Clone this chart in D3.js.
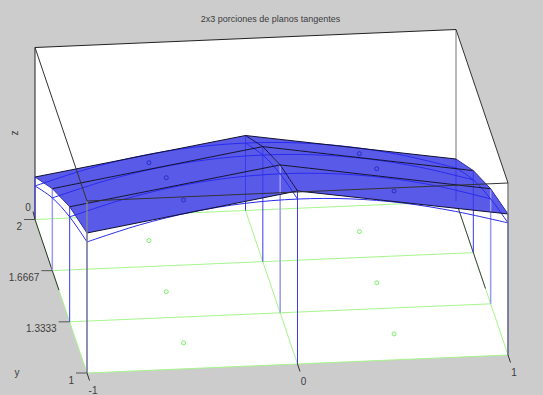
<!DOCTYPE html>
<html>
<head>
<meta charset="utf-8">
<script src="https://cdnjs.cloudflare.com/ajax/libs/d3/7.8.5/d3.min.js"></script>
<style>
	html, body { margin: 0; padding: 0; background: #cccccc; }
	svg { display: block; }
	text { font-family: "Liberation Sans", sans-serif; font-size: 10px; fill: #3c3c3c; }
</style>
</head>
<body>
<svg id="vis" width="543" height="395"></svg>
<script>
	var titleText = "2x3 porciones de planos tangentes";
	var xNodes = [-1, 0, 1];
	var yNodes = [2, 5 / 3, 4 / 3, 1];
	var yLabels = ["2", "1.6667", "1.3333", "1"];
	var xLabels = ["-1", "0", "1"];

	// tangent plane corners, one row per y node, one value per x node
	var planeRow2 = [0.247, 0.436, 0.247];
	var planeRow53 = [0.477, 0.669, 0.477];
	var planeRow43 = [0.669, 0.860, 0.669];
	var planeRow1 = [0.814, 1.006, 0.820];
	var planeRows = [planeRow2, planeRow53, planeRow43, planeRow1];

	// the function itself, read along each y node
	var wireX = [-1, -0.75, -0.5, -0.25, 0, 0.25, 0.5, 0.75, 1];
	var wireRow2 = [0.195, 0.281, 0.343, 0.380, 0.392, 0.380, 0.343, 0.281, 0.195];
	var wireRow53 = [0.423, 0.509, 0.571, 0.608, 0.620, 0.608, 0.571, 0.509, 0.423];
	var wireRow43 = [0.610, 0.697, 0.759, 0.796, 0.808, 0.796, 0.759, 0.697, 0.610];
	var wireRow1 = [0.762, 0.848, 0.910, 0.947, 0.959, 0.947, 0.910, 0.848, 0.768];
	var wireRows = [wireRow2, wireRow53, wireRow43, wireRow1];

	// tangency points
	var pointX = [-0.5, -0.5, -0.5, 0.5, 0.5, 0.5];
	var pointY = [11 / 6, 1.5, 7 / 6, 11 / 6, 1.5, 7 / 6];
	var pointZ = [0.453, 0.663, 0.831, 0.453, 0.663, 0.831];

	var svg = d3.select("#vis");

	var xToPx = d3.scaleLinear().domain([-1, 1]).range([35, 456]);
	var xToPy = d3.scaleLinear().domain([-1, 1]).range([219.5, 201.5]);
	var yToPx = d3.scaleLinear().domain([2, 1]).range([0, 52]);
	var yToPy = d3.scaleLinear().domain([2, 1]).range([0, 153.5]);
	var zToPy = d3.scaleLinear().domain([0, 1]).range([0, -172]);

	function project(x, y, z) {
		return [xToPx(x) + yToPx(y), xToPy(x) + yToPy(y) + zToPy(z)];
	}

	var line = d3.line();
	var curve = d3.line().curve(d3.curveCatmullRom);

	function seg(a, b, color, width) {
		svg.append("path")
			.attr("d", line([a, b]))
			.attr("fill", "none")
			.attr("stroke", color)
			.attr("stroke-width", width || 1);
	}

	// white inside of the box
	svg.append("path")
		.attr("d", line([
			project(-1, 2, 1), project(1, 2, 1), project(1, 1, 1),
			project(1, 1, 0), project(-1, 1, 0), project(-1, 2, 0)
		]) + "Z")
		.attr("fill", "#ffffff");

	// back box edges
	seg(project(-1, 2, 0), project(-1, 2, 1), "#222");
	seg(project(1, 2, 0), project(1, 2, 1), "#777");
	seg(project(-1, 2, 1), project(1, 2, 1), "#222");

	// green floor grid
	var green = "#a6f58c";
	yNodes.forEach(function(y) {
		seg(project(-1, y, 0), project(1, y, 0), green);
	});
	xNodes.forEach(function(x) {
		seg(project(x, 2, 0), project(x, 1, 0), green);
	});
	// dark parts of the side edges of the floor
	seg(project(-1, 2, 0), project(-1, 1.54, 0), "#333");
	seg(project(1, 2, 0), project(1, 1.433, 0), "#444");

	pointX.forEach(function(x, i) {
		var p = project(x, pointY[i], 0);
		svg.append("circle").attr("cx", p[0]).attr("cy", p[1]).attr("r", 2)
			.attr("fill", "none").attr("stroke", "#7df06a");
	});

	// patches
	for (var r = 0; r < yNodes.length - 1; r++) {
		for (var c = 0; c < xNodes.length - 1; c++) {
			svg.append("path")
				.attr("d", line([
					project(xNodes[c], yNodes[r], planeRows[r][c]),
					project(xNodes[c + 1], yNodes[r], planeRows[r][c + 1]),
					project(xNodes[c + 1], yNodes[r + 1], planeRows[r + 1][c + 1]),
					project(xNodes[c], yNodes[r + 1], planeRows[r + 1][c])
				]) + "Z")
				.attr("fill", "#5a5ae8")
				.attr("stroke", "none");
		}
	}

	// verticals from floor to the planes, some come out wider and paler
	yNodes.forEach(function(y, r) {
		xNodes.forEach(function(x, c) {
			var pale = (r == 1 && c == 0) || (r == 2 && c > 0);
			seg(project(x, y, 0), project(x, y, planeRows[r][c]), pale ? "#9a9af5" : "#3a3aee", pale ? 1.5 : 1);
		});
	});

	// wire of the function
	wireRows.forEach(function(row, r) {
		svg.append("path")
			.attr("d", curve(row.map(function(z, i) { return project(wireX[i], yNodes[r], z); })))
			.attr("fill", "none").attr("stroke", "#2a2aee");
	});
	[0, 4, 8].forEach(function(i) {
		svg.append("path")
			.attr("d", curve(wireRows.map(function(row, r) { return project(wireX[i], yNodes[r], row[i]); })))
			.attr("fill", "none").attr("stroke", "#2a2aee");
	});

	// outlines of the planes
	planeRows.forEach(function(row, r) {
		var pts = row.map(function(z, c) { return project(xNodes[c], yNodes[r], z); });
		svg.append("path").attr("d", line(pts)).attr("fill", "none").attr("stroke", "#111133");
	});
	xNodes.forEach(function(x, c) {
		var pts = planeRows.map(function(row, r) { return project(x, yNodes[r], row[c]); });
		svg.append("path").attr("d", line(pts)).attr("fill", "none").attr("stroke", c == 1 ? "#111155" : "#3030a0");
	});

	pointX.forEach(function(x, i) {
		var p = project(x, pointY[i], pointZ[i]);
		svg.append("circle").attr("cx", p[0]).attr("cy", p[1]).attr("r", 2)
			.attr("fill", "none").attr("stroke", "#2a2ac8");
	});

	// front box edges
	seg(project(-1, 1, 0), project(-1, 1, 1), "#8a8a8a", 1.3);
	seg(project(1, 1, 0), project(1, 1, 1), "#777", 1.3);
	seg(project(-1, 1, 1), project(1, 1, 1), "#333");
	seg(project(-1, 2, 1), project(-1, 1, 1), "#333");
	seg(project(1, 2, 1), project(1, 1, 1), "#333");

	// ticks and labels
	function label(s, x, y, anchor) {
		return svg.append("text").attr("x", x).attr("y", y)
			.attr("text-anchor", anchor || "middle").text(s);
	}

	xNodes.forEach(function(x, i) {
		var p = project(x, 1, 0);
		seg(p, [p[0] + 2.5, p[1] + 7.5], "#333");
		label(xLabels[i], p[0] + 6, p[1] + 21);
	});
	yNodes.forEach(function(y, i) {
		var p = project(-1, y, 0);
		seg(p, [p[0] - 11, p[1]], "#555");
		label(yLabels[i], p[0] - 13, p[1] + 10.5, "end");
	});
	var z0 = project(-1, 2, 0);
	seg(z0, [z0[0] - 2, z0[1] - 8], "#333");
	label("0", z0[0] - 7, z0[1] - 9);

	label(titleText, 270.5, 21.5).style("font-size", "9px");
	label("y", 17, 376);
	label("z", 0, 0).attr("transform", "translate(18,133) rotate(-90)");
</script>
</body>
</html>
